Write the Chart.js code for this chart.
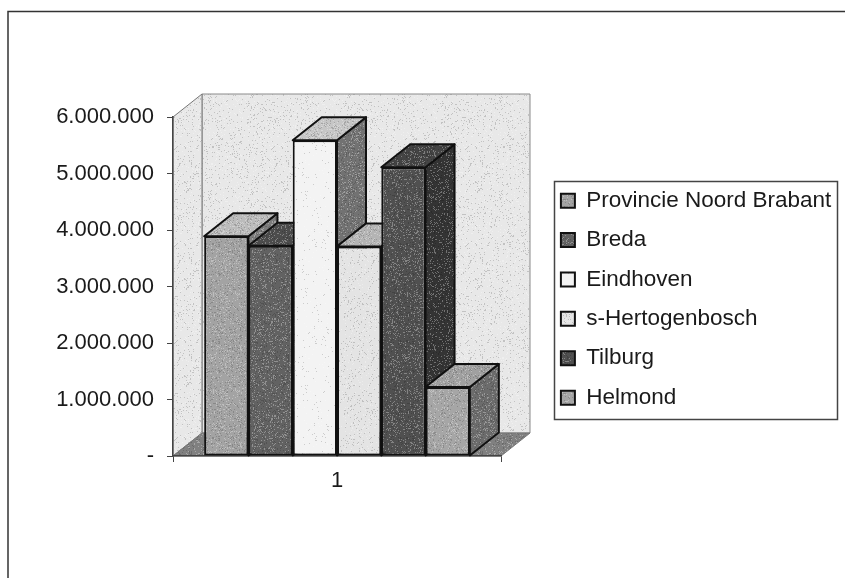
<!DOCTYPE html>
<html>
<head>
<meta charset="utf-8">
<style>
  html, body { margin: 0; padding: 0; background: #fff; }
  canvas { display: block; }
</style>
<script src="https://cdn.jsdelivr.net/npm/chart.js@4/dist/chart.umd.min.js"></script>
</head>
<body>
<canvas id="grafiek" width="845" height="578"></canvas>
<script>
const categorieen = ['1'];
const gebieden = ['Provincie Noord Brabant', 'Breda', 'Eindhoven', 's-Hertogenbosch', 'Tilburg', 'Helmond'];
const waarden = [3890000, 3720000, 5590000, 3710000, 5110000, 1220000];
const yTicks = ['-', '1.000.000', '2.000.000', '3.000.000', '4.000.000', '5.000.000', '6.000.000'];

const kleurVoor = ['#a3a3a3', '#626262', '#f3f3f3', '#e4e4e4', '#505050', '#a6a6a6'];
const kleurBoven = ['#bcbcbc', '#4c4c4c', '#c6c6c6', '#b4b4b4', '#444444', '#a0a0a0'];
const kleurZij = ['#7c7c7c', '#3e3e3e', '#727272', '#8c8c8c', '#343434', '#6c6c6c'];
const korrelVoor = [22, 26, 4, 12, 26, 20];

const diepteX = 29;
const diepteY = -23;

// korrel van de scan, vaste reeks zodat elke render hetzelfde is
function korrel(kleur, sterkte) {
    const c = document.createElement('canvas');
    c.width = c.height = 97;
    const g = c.getContext('2d');
    g.fillStyle = kleur;
    g.fillRect(0, 0, 97, 97);
    let s = 12345;
    for (let y = 0; y < 97; y++) {
        for (let x = 0; x < 97; x++) {
            s = (s * 1103515245 + 12345) & 0x7fffffff;
            const r = (s >> 16) % 100;
            if (r < sterkte) {
                g.fillStyle = r % 2 ? 'rgba(0,0,0,0.16)' : 'rgba(255,255,255,0.3)';
                g.fillRect(x, y, 1, 1);
            }
        }
    }
    return g.createPattern(c, 'repeat');
}

function vlak(ctx, punten, vulling, lijn, dikte) {
    ctx.beginPath();
    punten.forEach((p, i) => i ? ctx.lineTo(p[0], p[1]) : ctx.moveTo(p[0], p[1]));
    ctx.closePath();
    ctx.fillStyle = vulling;
    ctx.fill();
    ctx.strokeStyle = lijn;
    ctx.lineWidth = dikte;
    ctx.stroke();
}

const driedee = {
    id: 'driedee',
    afterLayout(chart) {
        const l = chart.legend;
        l.left = 544;
        l.right = 838;
        l.top = 172.5;
        l.bottom = 570;
    },
    beforeDraw(chart) {
        const ctx = chart.ctx;
        const a = chart.chartArea;
        ctx.save();
        ctx.fillStyle = '#ffffff';
        ctx.fillRect(0, 0, chart.width, chart.height);

        // kader
        ctx.strokeStyle = '#333';
        ctx.lineWidth = 1.5;
        ctx.beginPath();
        ctx.moveTo(8, 578);
        ctx.lineTo(8, 11.5);
        ctx.lineTo(845, 11.5);
        ctx.stroke();

        const wand = korrel('#e8e8e8', 14);
        vlak(ctx, [[a.left + diepteX, a.top + diepteY], [a.right + diepteX, a.top + diepteY],
            [a.right + diepteX, a.bottom + diepteY], [a.left + diepteX, a.bottom + diepteY]], wand, '#8a8a8a', 1);
        vlak(ctx, [[a.left, a.top], [a.left + diepteX, a.top + diepteY],
            [a.left + diepteX, a.bottom + diepteY], [a.left, a.bottom]], wand, '#777', 1);
        vlak(ctx, [[a.left, a.bottom], [a.left + diepteX, a.bottom + diepteY],
            [a.right + diepteX, a.bottom + diepteY], [a.right, a.bottom]], korrel('#808080', 24), '#777', 1);
        ctx.restore();
    },
    beforeDatasetsDraw(chart) {
        // links naar rechts tekenen, elke balk valt over de vorige heen
        const ctx = chart.ctx;
        gebieden.forEach((naam, i) => {
            const balk = chart.getDatasetMeta(i).data[0];
            const links = balk.x - balk.width / 2;
            const rechts = balk.x + balk.width / 2;
            ctx.save();
            ctx.lineJoin = 'round';
            vlak(ctx, [[rechts, balk.y], [rechts + diepteX, balk.y + diepteY],
                [rechts + diepteX, balk.base + diepteY], [rechts, balk.base]], korrel(kleurZij[i], 26), '#111', 2);
            vlak(ctx, [[links, balk.y], [links + diepteX, balk.y + diepteY],
                [rechts + diepteX, balk.y + diepteY], [rechts, balk.y]], korrel(kleurBoven[i], 26), '#111', 2);
            ctx.restore();
            balk.draw(ctx);
        });
    },
    beforeDatasetDraw() {
        return false;
    },
    afterDraw(chart) {
        const ctx = chart.ctx;
        ctx.save();
        ctx.strokeStyle = '#444';
        ctx.lineWidth = 1.5;
        ctx.strokeRect(554.5, 181.5, 283, 238);
        ctx.restore();
    }
};

new Chart(document.getElementById('grafiek'), {
    type: 'bar',
    data: {
        labels: categorieen,
        datasets: gebieden.map((naam, i) => ({
            label: naam,
            data: [waarden[i]],
            backgroundColor: korrel(kleurVoor[i], korrelVoor[i]),
            borderColor: '#111',
            borderWidth: 2,
            borderSkipped: false
        }))
    },
    options: {
        responsive: false,
        animation: false,
        categoryPercentage: 0.81,
        barPercentage: 1,
        layout: { padding: { top: 117, right: 344, left: 0, bottom: 0 } },
        plugins: {
            title: { display: false },
            tooltip: { enabled: false },
            legend: {
                position: 'chartArea',
                align: 'start',
                labels: {
                    boxWidth: 14,
                    boxHeight: 14,
                    padding: 16.9,
                    color: '#1a1a1a',
                    font: { family: '"Liberation Sans"', size: 22.5 }
                }
            }
        },
        scales: {
            x: {
                afterFit: s => { s.height = 122; },
                ticks: {
                    padding: 6,
                    color: '#1a1a1a',
                    font: { family: '"Liberation Sans"', size: 22 }
                },
                grid: { drawOnChartArea: false, tickLength: 6, color: '#444' },
                border: { color: '#444', width: 1.5 }
            },
            y: {
                min: 0,
                max: 6000000,
                afterFit: s => { s.width = 173; },
                ticks: {
                    stepSize: 1000000,
                    padding: 13,
                    color: '#1a1a1a',
                    font: { family: '"Liberation Sans"', size: 22 },
                    callback: (v) => yTicks[v / 1000000]
                },
                grid: { drawOnChartArea: false, tickLength: 6, color: '#444' },
                border: { color: '#444', width: 1.5 }
            }
        }
    },
    plugins: [driedee]
});
</script>
</body>
</html>
